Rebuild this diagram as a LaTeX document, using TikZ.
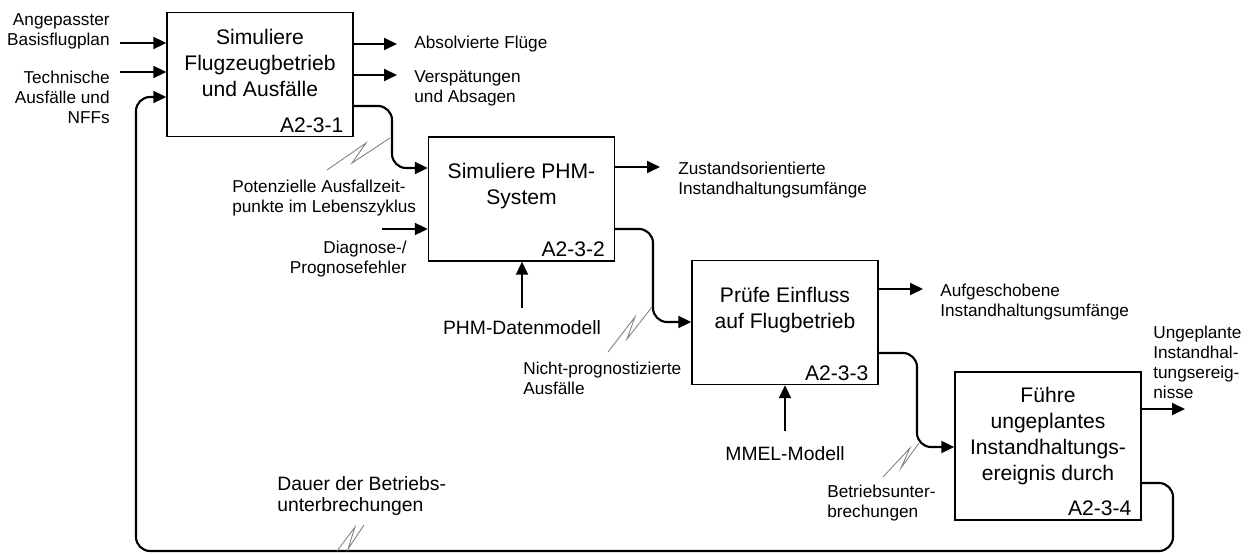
\documentclass[tikz,border=0pt]{standalone}
\usepackage{fontspec}
\setmainfont{Liberation Sans}
\usetikzlibrary{arrows.meta}

\begin{document}
\begin{tikzpicture}[x=0.02cm,y=-0.02cm]
	\tikzstyle{blk}=[draw,line width=0.8pt,minimum width=3.72cm,minimum height=2.48cm,inner sep=0pt]
	\tikzstyle{ttl}=[align=center,inner sep=0pt,font=\fontsize{12}{14.8}\selectfont]
	\tikzstyle{nr}=[anchor=south east,inner sep=0pt,font=\fontsize{12}{14.8}\selectfont]
	\tikzstyle{lbl}=[inner sep=0pt,font=\fontsize{9.8}{11.4}\selectfont]
	\tikzstyle{ctl}=[inner sep=0pt,font=\fontsize{11}{11.4}\selectfont]
	\tikzstyle{flow}=[line width=1.2pt,->,>={Triangle[length=7.4pt,width=6.8pt]},rounded corners=8pt]
	\tikzstyle{tilde}=[line width=0.5pt,gray]

	\useasboundingbox (0,0) rectangle (1249,554);

	% activity boxes
	\node [blk] (b1) at (260,74.5) {};
	\node [blk] (b2) at (521.5,199) {};
	\node [blk] (b3) at (785,322.5) {};
	\node [blk,minimum height=2.96cm] (b4) at (1048,446) {};

	\node [ttl] (t1) at (260,63) {Simuliere\\Flugzeugbetrieb\\und Ausfälle};
	\node [ttl] (t2) at (521.5,186) {Simuliere PHM-\\System};
	\node [ttl] (t3) at (785,310.5) {Prüfe Einfluss\\auf Flugbetrieb};
	\node [ttl] (t4) at (1048,436) {Führe\\ungeplantes\\Instandhaltungs-\\ereignis durch};

	\node [nr] (n1) at ([xshift=-5.7pt,yshift=2.6pt]b1.south east) {A2-3-1};
	\node [nr] (n2) at ([xshift=-5.7pt,yshift=2.6pt]b2.south east) {A2-3-2};
	\node [nr] (n3) at ([xshift=-5.7pt,yshift=2.6pt]b3.south east) {A2-3-3};
	\node [nr] (n4) at ([xshift=-5.7pt,yshift=2.6pt]b4.south east) {A2-3-4};

	% labels
	\node [lbl,anchor=east,align=right] (l1) at (110,31) {Angepasster\\Basisflugplan};
	\node [lbl,anchor=east,align=right] (l2) at (110,97) {Technische\\Ausfälle und\\NFFs};
	\node [lbl,anchor=west] (l3) at (414,44) {Absolvierte Flüge};
	\node [lbl,anchor=west,align=left] (l4) at (414,88) {Verspätungen\\und Absagen};
	\node [lbl,anchor=west,align=left] (l5) at (232,198) {Potenzielle Ausfallzeit-\\punkte im Lebenszyklus};
	\node [lbl,anchor=east,align=right] (l6) at (407,259) {Diagnose-/\\Prognosefehler};
	\node [lbl,anchor=west,align=left] (l7) at (678,180) {Zustandsorientierte\\Instandhaltungsumfänge};
	\node [ctl] (l8) at (522,328) {PHM-Datenmodell};
	\node [lbl,anchor=west,align=left] (l9) at (523,378) {Nicht-prognostizierte\\Ausfälle};
	\node [lbl,anchor=west,align=left] (l10) at (940,302) {Aufgeschobene\\Instandhaltungsumfänge};
	\node [ctl] (l11) at (785,454) {MMEL-Modell};
	\node [lbl,anchor=west,align=left] (l12) at (827,503) {Betriebsunter-\\brechungen};
	\node [lbl,anchor=west,align=left] (l13) at (1153,362) {Ungeplante\\Instandhal-\\tungsereig-\\nisse};
	\node [ctl,anchor=west,align=left] (l14) at (277,496) {Dauer der Betriebs-\\unterbrechungen};

	% inputs, controls and outputs
	\coordinate (i1) at (120,43);
	\coordinate (i2) at (120,72);
	\coordinate (i3) at (382,229);
	\coordinate (c1) at (522,308);
	\coordinate (c2) at (785,431);
	\coordinate (o1) at (397,44);
	\coordinate (o2) at (397,75);
	\coordinate (o3) at (660,167);
	\coordinate (o4) at (923,289);
	\coordinate (o5) at (1185,409);

	\draw [flow] (i1) -- (i1 -| b1.west);
	\draw [flow] (i2) -- (i2 -| b1.west);
	\draw [flow] (i3) -- (i3 -| b2.west);
	\draw [flow] (c1) -- (c1 |- b2.south);
	\draw [flow] (c2) -- (c2 |- b3.south);
	\draw [flow] (o1 -| b1.east) -- (o1);
	\draw [flow] (o2 -| b1.east) -- (o2);
	\draw [flow] (o3 -| b2.east) -- (o3);
	\draw [flow] (o4 -| b3.east) -- (o4);
	\draw [flow] (o5 -| b4.east) -- (o5);

	% links between the boxes
	\draw [flow] (b1.east |- 0,106) -- (392,106) -- (392,168) -- (b2.west |- 0,168);
	\draw [flow] (b2.east |- 0,229) -- (653,229) -- (653,322) -- (b3.west |- 0,322);
	\draw [flow] (b3.east |- 0,353) -- (917,353) -- (917,447) -- (b4.west |- 0,447);
	\draw [flow] (b4.east |- 0,483) -- (1173,483) -- (1173,551) -- (136,551) -- (136,97) -- (b1.west |- 0,97);

	\draw [tilde] (327,170) -- (366,143) -- (352,163) -- (390,138);
	\draw [tilde] (608,352) -- (635,317) -- (627,339) -- (652,307);
	\draw [tilde] (883,477) -- (910,448) -- (901,468) -- (919,443);
	\draw [tilde] (337,551) -- (355,527) -- (348,549) -- (364,525);
\end{tikzpicture}
\end{document}
